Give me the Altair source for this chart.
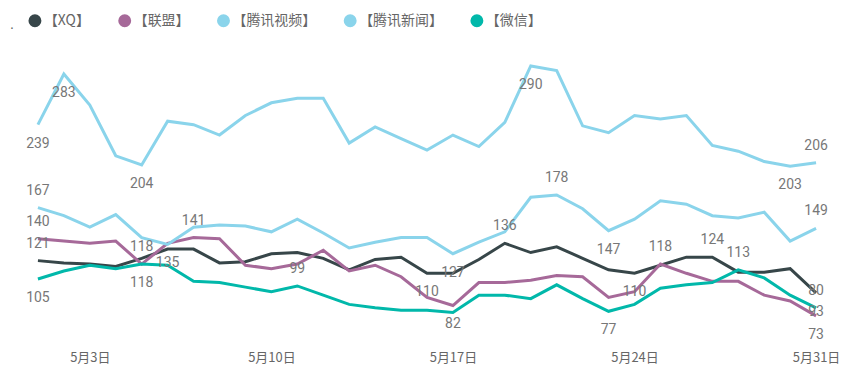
import altair as alt
import pandas as pd

days = list(range(1, 32))
series = ["【XQ】", "【联盟】", "【腾讯视频】", "【腾讯新闻】", "【微信】"]
colors = ["#374649", "#A66999", "#8AD4EB", "#8AD4EB", "#01B8AA"]

xq = [121, 119, 118, 116, 123, 131, 131, 119, 120, 127, 128, 123, 113, 122, 124, 110,
      110, 122, 136, 128, 133, 123, 113, 110, 117, 124, 124, 111, 111, 114, 93]
lianmeng = [140, 138, 136, 138, 118, 136, 141, 140, 117, 114, 118, 130, 112, 117, 107, 89,
            82, 102, 102, 104, 108, 107, 89, 94, 118, 110, 103, 103, 91, 86, 73]
video = [239, 283, 256, 212, 204, 242, 239, 230, 247, 258, 262, 262, 223, 237, 227, 217,
         230, 220, 241, 290, 286, 238, 232, 247, 244, 247, 221, 216, 207, 203, 206]
news = [167, 160, 150, 161, 141, 135, 150, 152, 151, 146, 157, 145, 132, 137, 141, 141,
        127, 137, 146, 176, 178, 166, 147, 157, 173, 170, 160, 158, 163, 138, 149]
wechat = [105, 112, 117, 114, 118, 117, 103, 102, 98, 94, 99, 91, 83, 80, 78, 78,
          76, 91, 91, 88, 100, 88, 77, 83, 97, 100, 102, 113, 106, 91, 80]

tick_days = [3, 10, 17, 24, 31]
tick_labels = ["5月3日", "5月10日", "5月17日", "5月24日", "5月31日"]

# data-label days per series, with placement
labels_above = {
    "【XQ】": [1, 19, 27],
    "【联盟】": [1, 5, 7, 25],
    "【腾讯视频】": [31],
    "【腾讯新闻】": [1, 21, 31],
    "【微信】": [11, 28, 31],
}
labels_below = {
    "【XQ】": [16, 24, 31],
    "【联盟】": [17, 31],
    "【腾讯视频】": [1, 2, 5, 20, 30],
    "【腾讯新闻】": [6, 17, 23],
    "【微信】": [1, 5, 23],
}

values = dict(zip(series, [xq, lianmeng, video, news, wechat]))

rows = []
for s in series:
    for d, v in zip(days, values[s]):
        rows.append({"day": d, "value": v, "series": s})
df = pd.DataFrame(rows)

lab_rows = []
for pos, table in (("above", labels_above), ("below", labels_below)):
    for s, ds in table.items():
        for d in ds:
            lab_rows.append({"day": d, "value": values[s][d - 1], "series": s, "pos": pos})
lab = pd.DataFrame(lab_rows)

label_expr = " : ".join(
    f"datum.value == {d} ? '{t}'" for d, t in zip(tick_days, tick_labels)
) + " : ''"

xscale = alt.Scale(domain=[1, 31], nice=False, zero=False)
yscale = alt.Scale(domain=[52.4, 312.2], nice=False, zero=False)

lines = alt.Chart(df).mark_line(strokeWidth=3).encode(
    x=alt.X("day:Q", scale=xscale,
            axis=alt.Axis(values=tick_days, labelExpr=label_expr, ticks=False, domain=False,
                          grid=False, title=None, labelFont="Noto Sans CJK SC",
                          labelFontSize=13, labelColor="#666666", labelPadding=12,
                          labelFlush=False)),
    y=alt.Y("value:Q", scale=yscale, axis=None),
    color=alt.Color("series:N", sort=series,
                    scale=alt.Scale(domain=series, range=colors),
                    legend=alt.Legend(orient="none", legendX=-28, legendY=-27,
                                      direction="horizontal", title=".",
                                      titleOrient="left", titleFontSize=14,
                                      titleColor="#666666", titleFontWeight="normal",
                                      titlePadding=14, symbolType="circle",
                                      symbolSize=42, symbolStrokeWidth=6.5,
                                      labelFont="Noto Sans CJK SC", labelFontSize=14,
                                      labelColor="#666666", labelOffset=2,
                                      columnPadding=17, padding=0)),
)

base_text = alt.Chart(lab)
above = base_text.transform_filter(alt.datum.pos == "above").mark_text(
    dy=-17, font="Roboto", fontSize=14, color="#777777", baseline="middle"
).encode(x=alt.X("day:Q", scale=xscale), y=alt.Y("value:Q", scale=yscale),
         text=alt.Text("value:Q", format="d"))
below = base_text.transform_filter(alt.datum.pos == "below").mark_text(
    dy=19, font="Roboto", fontSize=14, color="#777777", baseline="middle"
).encode(x=alt.X("day:Q", scale=xscale), y=alt.Y("value:Q", scale=yscale),
         text=alt.Text("value:Q", format="d"))

chart = alt.layer(lines, above, below).properties(
    width=780, height=300,
    autosize=alt.AutoSizeParams(type="none"),
    padding={"left": 30, "top": 32, "right": 30, "bottom": 34},
    background="white",
).configure_view(stroke=None)

chart.save("out.html", embed_options={"renderer": "svg", "actions": False})
